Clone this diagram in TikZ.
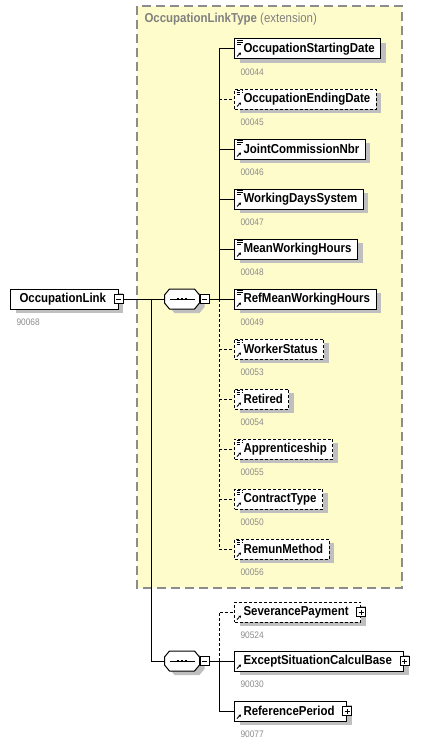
\documentclass[tikz,border=0pt]{standalone}
\usepackage{fontspec}
\setmainfont{Liberation Sans}[FakeStretch=0.885]
\usetikzlibrary{shadows,arrows.meta}

\begin{document}
\begin{tikzpicture}[
	x=1bp, y=-1bp, line width=1bp,
	every node/.style = {font=\fontsize{13}{15}\selectfont},
	shadowed/.style = {
		drop shadow={shadow xshift=5bp, shadow yshift=-4bp, fill=black!25, opacity=1}},
	elembox/.style = {
		shape=rectangle, draw, fill=white, shadowed,
		anchor=west, minimum height=20bp, inner xsep=0pt, inner ysep=0pt,
		font=\bfseries\fontsize{13}{15}\selectfont,
		execute at begin node=\hspace*{9bp}},
	root/.style = {elembox, execute at end node=\hspace*{12bp}},
	refelem/.style = {
		elembox, execute at end node=\hspace*{12bp},
		path picture={
			\draw[line width=0.8bp, -{Triangle[length=2.2bp,width=2.8bp]}]
				([shift={(2.5bp,2.5bp)}]path picture bounding box.south west) -- ++(4bp,4bp);}},
	simpleelem/.style = {
		elembox, execute at end node=\hspace*{6bp},
		path picture={
			\draw[line width=0.8bp, -{Triangle[length=2.2bp,width=2.8bp]}]
				([shift={(2.5bp,2.5bp)}]path picture bounding box.south west) -- ++(4bp,4bp);
			\draw[line width=0.7bp]
				([shift={(2bp,-1.5bp)}]path picture bounding box.north west) -- ++(6bp,0bp)
				([shift={(2bp,-3.5bp)}]path picture bounding box.north west) -- ++(6bp,0bp)
				([shift={(2bp,-5.5bp)}]path picture bounding box.north west) -- ++(4bp,0bp);}},
	optelem/.style = {dash pattern=on 3bp off 2bp},
	minusbox/.style = {
		shape=rectangle, draw, fill=white, minimum size=9bp, inner sep=0pt, line width=0.8bp,
		path picture={
			\draw[line width=0.8bp]
				([xshift=2bp]path picture bounding box.west) -- ([xshift=-2bp]path picture bounding box.east);}},
	plusbox/.style = {
		minusbox,
		path picture={
			\draw[line width=0.8bp]
				([xshift=2bp]path picture bounding box.west) -- ([xshift=-2bp]path picture bounding box.east)
				([yshift=2bp]path picture bounding box.south) -- ([yshift=-2bp]path picture bounding box.north);}},
	seq/.style = {
		shape=rectangle, minimum width=34bp, minimum height=19bp, inner sep=0pt,
		append after command={\pgfextra{\let\seqnode\tikzlastnode
			\draw[fill=white, shadowed]
				([xshift=5bp]\seqnode.north west) -- ([xshift=-5bp]\seqnode.north east)
				-- ([yshift=-6bp]\seqnode.north east) -- ([yshift=6bp]\seqnode.south east)
				-- ([xshift=-5bp]\seqnode.south east) -- ([xshift=5bp]\seqnode.south west)
				-- ([yshift=6bp]\seqnode.south west) -- ([yshift=-6bp]\seqnode.north west) -- cycle;
			\draw ([xshift=5bp]\seqnode.west) -- ([xshift=-5bp]\seqnode.east);
			\draw[line width=2.5bp, dash pattern=on 2.6bp off 1.4bp]
				([xshift=-5.5bp]\seqnode.center) -- ([xshift=5.5bp]\seqnode.center);}}},
	num/.style = {anchor=west, text=black!45, inner sep=0pt, font=\fontsize{9.5}{11}\selectfont},
	typebox/.style = {draw=black!45, fill=yellow!20, dash pattern=on 9bp off 5bp, line width=1.3bp}]

	\useasboundingbox (0,0) rectangle (434,744);

	% extension type
	\draw[typebox] (137,6) rectangle (402,588);
	\node[anchor=west, text=black!50, inner sep=0pt] (typename) at (144,19) {\textbf{OccupationLinkType} (extension)};

	% root element
	\node[root] (occlink) at (10,299) {OccupationLink};
	\node[minusbox] (occlinkm) at (occlink.east) {};
	\node[num] at ([shift={(6bp,-13bp)}]occlink.south west) {90068};

	% first sequence
	\node[seq] (seq1) at (182,299) {};
	\node[minusbox, anchor=west] (seq1m) at (seq1.east) {};

	\node[simpleelem] (startdate) at (234,49) {OccupationStartingDate};
	\node[simpleelem, optelem] (enddate) at (234,99) {OccupationEndingDate};
	\node[simpleelem] (jointcomm) at (234,149) {JointCommissionNbr};
	\node[simpleelem] (workdays) at (234,199) {WorkingDaysSystem};
	\node[simpleelem] (meanhours) at (234,249) {MeanWorkingHours};
	\node[simpleelem] (refmeanhours) at (234,299) {RefMeanWorkingHours};
	\node[simpleelem, optelem] (workerstatus) at (234,349) {WorkerStatus};
	\node[simpleelem, optelem] (retired) at (234,399) {Retired};
	\node[simpleelem, optelem] (apprentice) at (234,449) {Apprenticeship};
	\node[simpleelem, optelem] (contracttype) at (234,499) {ContractType};
	\node[simpleelem, optelem] (remunmethod) at (234,549) {RemunMethod};

	\node[num] at ([shift={(6bp,-13bp)}]startdate.south west) {00044};
	\node[num] at ([shift={(6bp,-13bp)}]enddate.south west) {00045};
	\node[num] at ([shift={(6bp,-13bp)}]jointcomm.south west) {00046};
	\node[num] at ([shift={(6bp,-13bp)}]workdays.south west) {00047};
	\node[num] at ([shift={(6bp,-13bp)}]meanhours.south west) {00048};
	\node[num] at ([shift={(6bp,-13bp)}]refmeanhours.south west) {00049};
	\node[num] at ([shift={(6bp,-13bp)}]workerstatus.south west) {00053};
	\node[num] at ([shift={(6bp,-13bp)}]retired.south west) {00054};
	\node[num] at ([shift={(6bp,-13bp)}]apprentice.south west) {00055};
	\node[num] at ([shift={(6bp,-13bp)}]contracttype.south west) {00050};
	\node[num] at ([shift={(6bp,-13bp)}]remunmethod.south west) {00056};

	% second sequence
	\node[seq] (seq2) at (182,661) {};
	\node[minusbox, anchor=west] (seq2m) at (seq2.east) {};

	\node[refelem, optelem] (severance) at (234,612) {SeverancePayment};
	\node[plusbox] (severancep) at (severance.east) {};
	\node[refelem] (exceptsit) at (234,661) {ExceptSituationCalculBase};
	\node[plusbox] (exceptsitp) at (exceptsit.east) {};
	\node[refelem] (refperiod) at (234,711) {ReferencePeriod};
	\node[plusbox] (refperiodp) at (refperiod.east) {};

	\node[num] at ([shift={(6bp,-13bp)}]severance.south west) {90524};
	\node[num] at ([shift={(6bp,-13bp)}]exceptsit.south west) {90030};
	\node[num] at ([shift={(6bp,-13bp)}]refperiod.south west) {90077};

	% connectors
	\coordinate (mainbus) at (151,299);
	\coordinate (bus1) at (219,299);
	\coordinate (bus2) at (219,661);

	\draw (occlinkm.east) -- (seq1.west);
	\draw (mainbus) |- (seq2.west);

	\draw (seq1m.east) -- (refmeanhours.west);
	\draw (bus1) |- (startdate.west);
	\draw[optelem] (bus1) |- (enddate.west);
	\draw (bus1) |- (jointcomm.west);
	\draw (bus1) |- (workdays.west);
	\draw (bus1) |- (meanhours.west);
	\draw[optelem] (bus1) |- (workerstatus.west);
	\draw[optelem] (bus1) |- (retired.west);
	\draw[optelem] (bus1) |- (apprentice.west);
	\draw[optelem] (bus1) |- (contracttype.west);
	\draw[optelem] (bus1) |- (remunmethod.west);

	\draw (seq2m.east) -- (exceptsit.west);
	\draw[optelem] (bus2) |- (severance.west);
	\draw (bus2) |- (refperiod.west);
\end{tikzpicture}
\end{document}
